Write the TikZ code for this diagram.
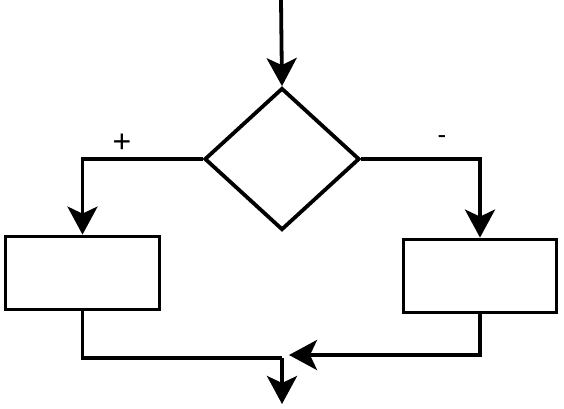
\documentclass[tikz,border=0pt]{standalone}
\usepackage{fontspec}
\setmainfont{Liberation Sans}
\usetikzlibrary{arrows.meta,shapes.geometric}
\begin{document}
\begin{tikzpicture}[x=1pt,y=-1pt,
  line/.style={line width=3.8pt},
  arr/.style={line width=3.8pt, -{Stealth[length=28pt,width=30pt,inset=7pt]}},
  box/.style={draw,line width=3.8pt,rectangle,inner sep=0pt},
  lbl/.style={font=\fontsize{32}{32}\selectfont}]
\useasboundingbox (0,0) rectangle (564,408);
\node[draw,line width=3.8pt,diamond,inner sep=0pt,minimum width=155pt,minimum height=142pt] (d) at (282,159) {};
\node[box,minimum width=154pt,minimum height=73pt] (lb) at (82.5,273) {};
\node[box,minimum width=153pt,minimum height=73pt] (rb) at (480,276) {};
\coordinate (top) at (281,0);
\coordinate (jl) at (282,358);
\coordinate (jr) at (289,355);
\coordinate (bot) at (282,404);
\node[lbl] (plus) at (122,143) {+};
\node[lbl,font=\fontsize{26}{26}\selectfont] (minus) at (442,140) {-};
\draw[arr] (top) -- (d.north);
\draw[arr] (d.west) -| (lb.north);
\draw[arr] (d.east) -| (rb.north);
\draw[line] (lb.south) |- (jl);
\draw[arr] (rb.south) |- (jr);
\draw[arr] (jl) -- (bot);
\end{tikzpicture}
\end{document}
